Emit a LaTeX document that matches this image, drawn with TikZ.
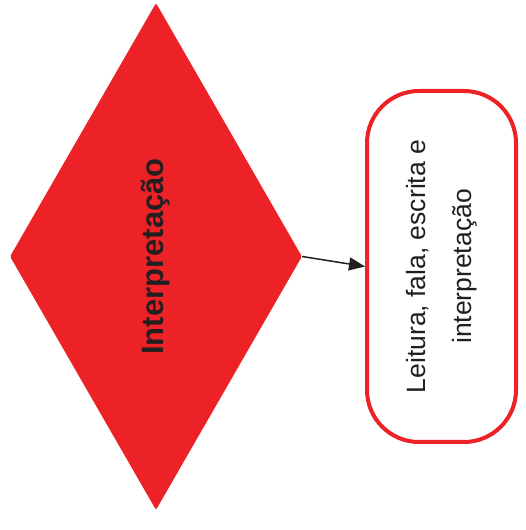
\documentclass[tikz,border=0pt]{standalone}
\usepackage{fontspec}
\setmainfont{Liberation Sans}
\usetikzlibrary{arrows.meta,shapes.geometric}
\definecolor{signal}{RGB}{237,34,39}
\definecolor{ink}{RGB}{35,31,32}
\tikzset{
  >={Triangle[length=16pt,width=13pt]},
  decision/.style={diamond,fill=#1,rotate=90,inner sep=0pt,rounded corners=1.5pt,
    minimum width=507pt,minimum height=292pt,text=ink,
    font=\fontsize{31}{36}\selectfont\bfseries},
  decision/.default=signal,
  pill/.style={draw=#1,fill=white,line width=4pt,rotate=90,rounded corners=52pt,
    minimum width=351pt,minimum height=149pt,align=center,text=ink,
    font=\fontsize{26.5}{46}\selectfont},
  pill/.default=signal,
  flow/.style={->,line width=1.5pt,draw=ink},
}
\begin{document}
\begin{tikzpicture}[x=1pt,y=1pt]
  \useasboundingbox (0,0) rectangle (525,530);
  \node[decision] (interp) at (156,273.5) {Interpretação};
  \node[pill] (reading) at (441.5,263.5) {Leitura, fala, escrita e\\interpretação};
  % right vertex of the diamond to the left side of the box
  \draw[flow] (interp.south) -- (reading.north);
\end{tikzpicture}
\end{document}
